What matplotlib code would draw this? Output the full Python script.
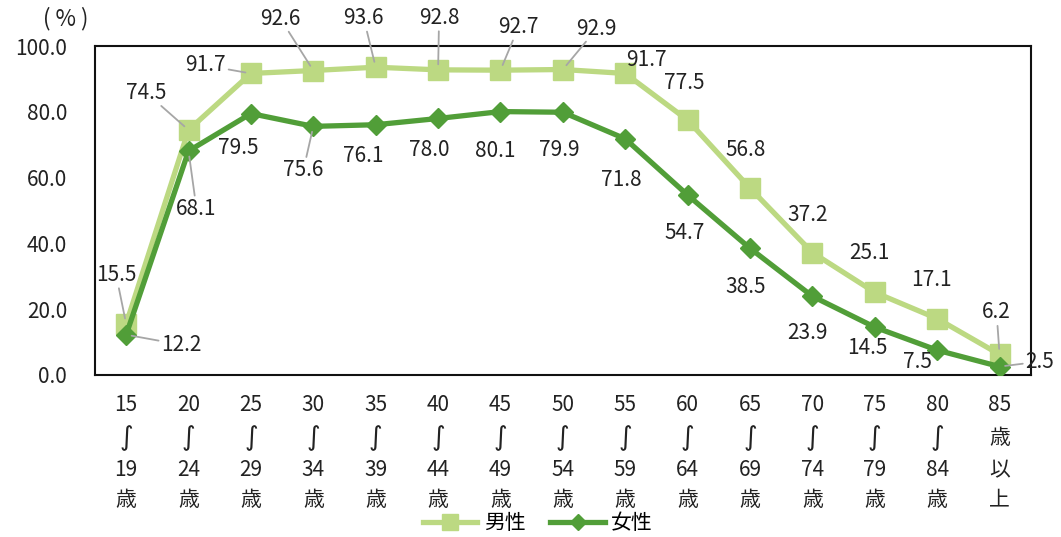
import matplotlib.pyplot as plt
import numpy as np

plt.rcParams['font.family'] = ['Noto Sans CJK JP', 'DejaVu Sans']

# 年齢階級 (2行目の波ダッシュは別に描く)
age_top = ['15', '20', '25', '30', '35', '40', '45', '50', '55', '60', '65', '70', '75', '80', '85']
age_bottom = ['19', '24', '29', '34', '39', '44', '49', '54', '59', '64', '69', '74', '79', '84', '以']
age_last = ['歳'] * 14 + ['上']
age_mid = ['∫'] * 14 + ['歳']

male = [15.5, 74.5, 91.7, 92.6, 93.6, 92.8, 92.7, 92.9, 91.7, 77.5, 56.8, 37.2, 25.1, 17.1, 6.2]
female = [12.2, 68.1, 79.5, 75.6, 76.1, 78.0, 80.1, 79.9, 71.8, 54.7, 38.5, 23.9, 14.5, 7.5, 2.5]

# ラベル位置 (pixel offset, 引き出し線の有無)
male_off = [(-10, 49, True), (-42, 37, True), (-45, 8, True), (-33, 52, True), (-12, 49, True),
            (1, 52, True), (18, 43, True), (34, 41, True), (21, 13, False), (-3, 37, False),
            (-4, 38, False), (-5, 38, False), (-5, 39, False), (-6, 39, False), (-3, 42, True)]
female_off = [(55, -10, True), (8, -58, True), (-13, -34, False), (-10, -44, True), (-12, -31, False),
              (-9, -32, False), (-5, -39, False), (-4, -38, False), (-4, -41, False), (-3, -38, False),
              (-4, -39, False), (-5, -37, False), (-7, -21, False), (-20, -12, False), (40, 5, True)]

c_male = '#bcd982'
c_female = '#519e38'
c_text = '#222222'

fig = plt.figure(figsize=(10.61, 5.37), dpi=100)
ax = fig.add_axes([0.0895, 0.302, 0.882, 0.612])

x = np.arange(len(age_top))
ax.plot(x, male, color=c_male, lw=3.8, marker='s', ms=14, label='男性', zorder=3)
ax.plot(x, female, color=c_female, lw=3.8, marker='D', ms=10, label='女性', zorder=4)

def put_labels(vals, offs):
    for i, (v, (dx, dy, lead)) in enumerate(zip(vals, offs)):
        kw = {}
        if lead:
            kw['arrowprops'] = dict(arrowstyle='-', color='#a6a6a6', lw=1.3,
                                    shrinkA=1, shrinkB=4)
        ax.annotate(f'{v:.1f}', (i, v), xytext=(dx, dy), textcoords='offset pixels',
                    ha='center', va='center', fontsize=15, color=c_text,
                    annotation_clip=False, zorder=5,
                    bbox=dict(boxstyle='square,pad=0.05', fc='none', ec='none'), **kw)

put_labels(male, male_off)
put_labels(female, female_off)

ax.set_xlim(-0.5, len(age_top) - 0.5)
ax.set_ylim(0, 100)
ax.set_yticks(np.arange(0, 101, 20))
ax.set_yticklabels([f'{t:.1f}' for t in np.arange(0, 101, 20)])
ax.set_xticks(x)
ax.set_xticklabels([])
ax.tick_params(axis='y', length=0, pad=20, labelsize=15, labelcolor=c_text)
ax.tick_params(axis='x', length=0)
for s in ax.spines.values():
    s.set_linewidth(1.5)
    s.set_color('#111111')

# 縦書き風の軸ラベル
xt = ax.get_xaxis_transform()
for i in x:
    for txt, dy in zip([age_top[i], age_mid[i], age_bottom[i], age_last[i]], [30, 63, 95, 125]):
        if txt == '∫':
            ax.annotate(txt, (i, 0), xycoords=xt, xytext=(0, -dy), textcoords='offset pixels',
                        ha='center', va='center', fontsize=19, color=c_text,
                        family=['DejaVu Sans'], annotation_clip=False)
        else:
            ax.annotate(txt, (i, 0), xycoords=xt, xytext=(0, -dy), textcoords='offset pixels',
                        ha='center', va='center', fontsize=15, color=c_text,
                        annotation_clip=False)

fig.text(0.062, 0.965, '( % )', ha='center', va='center', fontsize=16, color=c_text)

fig.legend(loc='lower center', bbox_to_anchor=(0.507, -0.03), ncol=2, frameon=False,
           fontsize=15, handlelength=2.6, columnspacing=1.2, handletextpad=0.3,
           markerscale=0.8)

fig.savefig('out.png', dpi=100)
